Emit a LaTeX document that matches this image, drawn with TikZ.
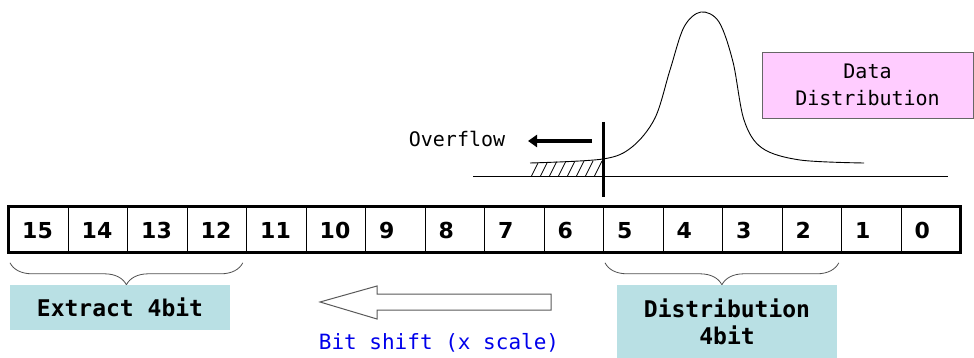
\documentclass[tikz,border=0pt]{standalone}
\usepackage{fontspec}
\setmainfont{DejaVu Sans}
\newfontfamily\monof{DejaVu Sans Mono}
\usetikzlibrary{decorations.pathreplacing,arrows.meta,calc}
\definecolor{boxcyan}{RGB}{185,224,228}
\definecolor{boxpink}{RGB}{255,204,255}
\definecolor{bitblue}{RGB}{0,0,235}
\definecolor{bracegray}{RGB}{80,80,80}
\begin{document}
\begin{tikzpicture}[x=1pt,y=-1pt,
  bitcell/.style={draw,line width=0.8pt,minimum width=59.5pt,minimum height=45pt,
    inner sep=0pt,anchor=north west},
  bitnum/.style={anchor=base west,inner sep=0pt,font=\fontsize{22}{26}\selectfont\bfseries},
  bracestyle/.style={draw=bracegray,line width=0.8pt,decorate,
    decoration={brace,mirror,amplitude=22pt}},
  labelbox/.style={fill=boxcyan,minimum width=220pt,inner sep=0pt,align=center,
    font=\monof\fontsize{23}{27}\selectfont\bfseries},
  datatext/.style={font=\monof\fontsize{20}{27}\selectfont,align=center},
]
\useasboundingbox (0,0) rectangle (974,358);

% register cells
\foreach \i in {0,...,15}{
  \node[bitcell] (c\i) at ({8+59.5*(15-\i)},207) {};
  \node[bitnum] (n\i) at ($(c\i.west)+(14,8.5)$) {\i};
}
\draw[line width=3pt] (c15.north west) rectangle (c0.south east);

% braces
\coordinate (b1s) at ($(c15.south west)+(2,10)$);
\coordinate (b1e) at ($(c12.south east)+(-4,10)$);
\coordinate (b2s) at ($(c5.south west)+(2,10)$);
\coordinate (b2e) at ($(c2.south east)+(-3,10)$);
\draw[bracestyle] (b1s) -- (b1e);
\draw[bracestyle] (b2s) -- (b2e);

% label boxes
\node[labelbox,minimum height=45pt] (extract) at (120,307.5) {Extract 4bit};
\node[labelbox,minimum height=73pt] (distbits) at (727,321.5) {Distribution\\4bit};

% hollow arrow
\draw[fill=white,draw=gray!70!black,line width=1pt]
  (320,302) -- (377,286) -- (377,294) -- (551,294) -- (551,310) -- (377,310) -- (377,319) -- cycle;
\node[font=\monof\fontsize{21}{25}\selectfont,text=bitblue] (shift) at (439,343) {Bit shift (x scale)};

% distribution plot
\draw[line width=0.8pt] (473,176) -- (948,176);
\begin{scope}
  \clip (530,163) -- (603,159) -- (603,176) -- (530,176) -- cycle;
  \foreach \x in {522,531,...,612}{
    \draw[line width=0.7pt] (\x,177) -- (\x+8,161);
  }
\end{scope}
\draw[line width=0.9pt] plot[smooth,tension=0.55] coordinates {
  (530,163) (603,159) (632,147) (655,118) (670,70) (684,27) (701,12) (719,22)
  (733,62) (744,120) (762,148) (800,160) (864,163)};

\coordinate (vtop) at (603,122);
\coordinate (vbot) at (603,197);
\draw[line width=3pt] (vtop) -- (vbot);

\node[datatext] (overflow) at (457,139) {Overflow};
\coordinate (ovtail) at (592,141);
\coordinate (ovhead) at (528,141);
\draw[line width=3.5pt,-{Triangle[length=9pt,width=12pt]}] (ovtail) -- (ovhead);

\node[datatext,draw=gray!80!black,line width=0.8pt,fill=boxpink,minimum width=211pt,
  minimum height=66pt,inner sep=0pt] (datadist) at (867.5,85) {Data\\Distribution};
\end{tikzpicture}
\end{document}
